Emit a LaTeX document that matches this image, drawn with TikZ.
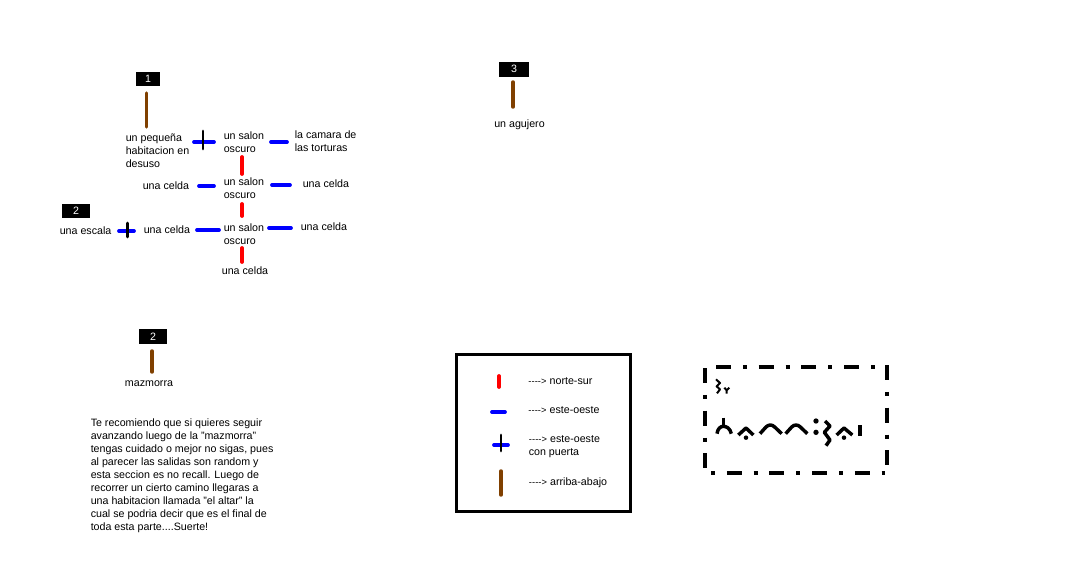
\documentclass[tikz,border=0pt]{standalone}
\usepackage{fontspec}
\setmainfont{Liberation Sans}
\definecolor{updowncol}{RGB}{128,64,0}
\tikzset{
  txt/.style={font=\fontsize{8}{9.75}\selectfont,inner sep=0pt,align=left},
  numbox/.style={fill=black,text=white,font=\fontsize{8}{9.75}\selectfont,inner sep=0pt,minimum height=10.5pt},
  nsbar/.style={draw=red,line width=2.8pt,line cap=round},
  ewbar/.style={draw=blue,line width=2.8pt,line cap=round},
  door/.style={draw=black,line width=2.2pt,line cap=round},
  updown/.style={draw=updowncol,line width=2.6pt,line cap=round},
  rune/.style={draw=black,line width=2.6pt,line join=round},
  smallrune/.style={draw=black,line width=1.5pt,line join=round},
  dashdot/.style={draw=black,line width=2.5pt,dash pattern=on 11.25pt off 8.9pt on 3pt off 8.85pt}
}
\newcommand{\flecha}{\fontsize{7}{9}\selectfont-\kern.1pt-\kern.1pt-\kern.1pt-\kern.1pt>}
\begin{document}
\begin{tikzpicture}[x=0.75pt,y=-0.75pt]
  \useasboundingbox (0,0) rectangle (1081,582);
  % first map
  \node[numbox,minimum width=18pt] (uno) at (148,79) {1\hspace{4pt}};
  \coordinate (unotop) at (146.5,93);
  \coordinate (unobot) at (146.5,127);
  \draw[updown] (unotop) -- (unobot);
  \node[txt,anchor=north west] (pequena) at (125.5,134) {un pequeña\\habitacion en\\desuso};
  \node[txt,anchor=north west] (salona) at (223.5,132) {un salon\\oscuro};
  \node[txt,anchor=north west] (camara) at (294.5,131) {la camara de\\las torturas};
  \node[txt,anchor=north west] (salonb) at (223.5,178) {un salon\\oscuro};
  \node[txt,anchor=west] (celdaa) at (142.5,186) {una celda};
  \node[txt,anchor=west] (celdab) at (302.5,184) {una celda};
  \node[txt,anchor=north west] (salonc) at (223.5,223) {un salon\\oscuro};
  \node[txt,anchor=west] (celdac) at (143.5,230) {una celda};
  \node[txt,anchor=west] (celdad) at (300.5,227) {una celda};
  \node[txt,anchor=center] (celdae) at (245,271) {una celda};
  \node[numbox,minimum width=21pt] (dos) at (76,211) {2};
  \node[txt,anchor=west] (escala) at (59.5,231) {una escala};
  % blue and red bars
  \draw[ewbar] (194,142) -- (214,142);
  \draw[door] (203,131) -- (203,149);
  \draw[ewbar] (271,142) -- (287,142);
  \draw[nsbar] (242,157) -- (242,174);
  \draw[ewbar] (199,186) -- (214,186);
  \draw[ewbar] (272,185) -- (290,185);
  \draw[nsbar] (242,204) -- (242,216);
  \draw[ewbar] (197,230) -- (219,230);
  \draw[ewbar] (269,228) -- (291,228);
  \draw[nsbar] (242,248) -- (242,262);
  \draw[ewbar] (119,231) -- (134,231);
  \draw[door] (127.5,223) -- (127.5,237);
  % second map
  \node[numbox,minimum width=21pt,minimum height=11.25pt] (dosb) at (153,336.5) {2};
  \coordinate (dosbtop) at (152,351);
  \coordinate (dosbbot) at (152,372);
  \draw[updown] (dosbtop) -- (dosbbot);
  \node[txt] (mazmorra) at (149,383.5) {mazmorra};
  \node[txt,anchor=north west] (consejo) at (90.5,418) {Te recomiendo que si quieres seguir\\avanzando luego de la ''mazmorra''\\tengas cuidado o mejor no sigas, pues\\al parecer las salidas son random y\\esta seccion es no recall. Luego de\\recorrer un cierto camino llegaras a\\una habitacion llamada ''el altar'' la\\cual se podria decir que es el final de\\toda esta parte....Suerte!};
  % third map
  \node[numbox,minimum width=22.5pt,minimum height=11.25pt] (tres) at (514,69.5) {\raisebox{1.5pt}{3}\hspace{3pt}};
  \coordinate (trestop) at (513,82);
  \coordinate (tresbot) at (513,107);
  \draw[updown] (trestop) -- (tresbot);
  \node[txt] (agujero) at (519.5,125) {un agujero};
  % legend
  \node[draw=black,line width=2.25pt,inner sep=0pt,minimum width=130.5pt,minimum height=117.75pt] (leyenda) at (543,432.5) {};
  \draw[nsbar] (499,376) -- (499,387);
  \draw[ewbar] (492,412) -- (505,412);
  \draw[ewbar] (494,445) -- (508,445);
  \draw[door] (501,435) -- (501,451);
  \draw[updown] (501,471) -- (501,495);
  \node[txt,anchor=west] (norte) at (528,381) {{\flecha} norte-sur};
  \node[txt,anchor=west] (este) at (528,410) {{\flecha} este-oeste};
  \node[txt,anchor=north west] (puerta) at (528.5,435) {{\flecha} este-oeste\\con puerta};
  \node[txt,anchor=west] (arriba) at (528.5,483) {{\flecha} arriba-abajo};
  % signature
  \draw[dashdot] (716,367) -- (876,367);
  \draw[dashdot,dash phase=20.15pt] (711,473) -- (885,473);
  \draw[dashdot] (705,368) -- (705,469);
  \draw[dashdot] (887,365) -- (887,466);
  \begin{scope}[shift={(690,355)},x=0.25pt,y=-0.25pt]
    \draw[smallrune] (78,73) -- (90,84) -- (80,94) -- (90,103) -- (81,115);
    \draw[smallrune] (103,98) -- (110,106) -- (118,98) (110,106) -- (110,116);
    \draw[rune] (100,188) -- (100,212);
    \draw[rune] (81,236) .. controls (83,220) and (92,214) .. (100,214) .. controls (110,214) and (120,220) .. (124,236);
    \draw[rune] (145,240) -- (168,219) -- (190,240);
    \fill (168,248) circle (1.7pt);
    \draw[rune] (210,236) -- (228,216) .. controls (236,208) and (246,208) .. (254,216) -- (275,236);
    \draw[rune] (287,236) -- (305,216) .. controls (313,208) and (323,208) .. (331,216) -- (352,236);
    \fill (378,198) circle (2pt);
    \fill (378,232) circle (2pt);
    \draw[rune] (405,198) -- (420,213) -- (403,232) -- (420,255) -- (408,272);
    \draw[rune] (440,240) -- (462,219) -- (487,240);
    \fill (462,248) circle (1.7pt);
    \draw[rune] (510,210) -- (510,243);
  \end{scope}
\end{tikzpicture}
\end{document}
